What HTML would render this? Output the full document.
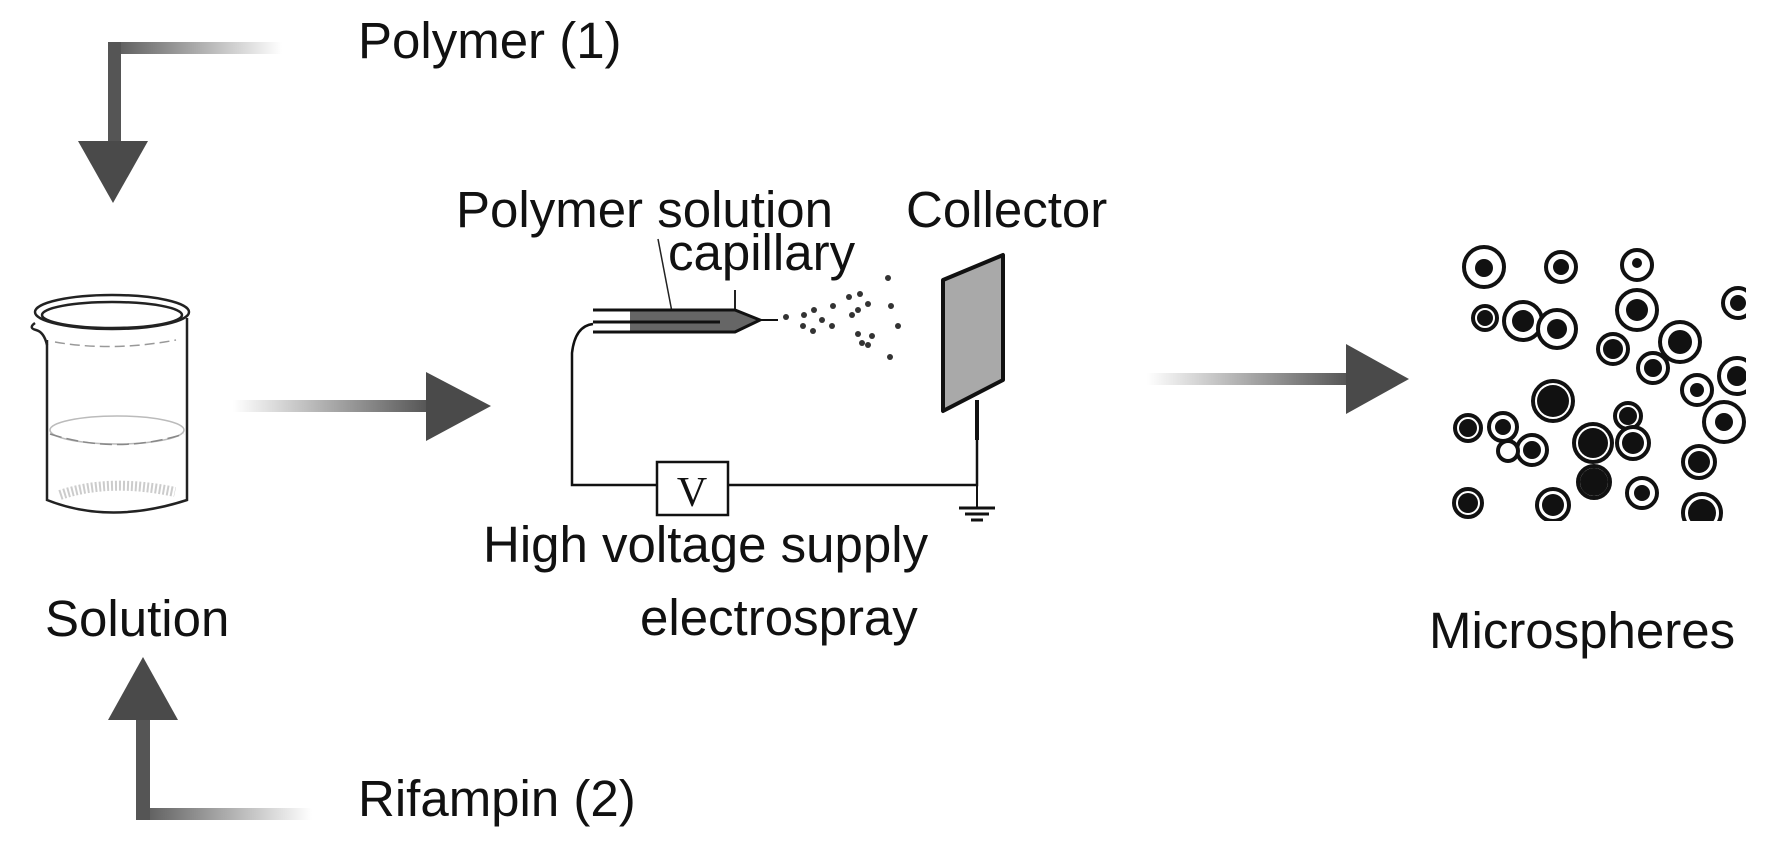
<!DOCTYPE html>
<html><head><meta charset="utf-8"><style>
html,body{margin:0;padding:0;background:#fff;}
svg{display:block;}
text{font-family:"Liberation Sans",sans-serif;fill:#111;}
</style></head><body>
<svg width="1772" height="844" viewBox="0 0 1772 844" xmlns="http://www.w3.org/2000/svg">
<defs>
<linearGradient id="gR" x1="0" x2="1" y1="0" y2="0"><stop offset="0" stop-color="#fff"/><stop offset="1" stop-color="#555"/></linearGradient>
<linearGradient id="gL" x1="0" x2="1" y1="0" y2="0"><stop offset="0" stop-color="#555"/><stop offset="1" stop-color="#fff"/></linearGradient>
<clipPath id="cp"><rect x="1440" y="240" width="306" height="281"/></clipPath>
</defs>

<!-- top arrow -->
<rect x="108" y="42" width="174" height="12" fill="url(#gL)"/>
<rect x="108" y="42" width="13" height="100" fill="#555"/>
<polygon points="78,141 148,141 113,203" fill="#4a4a4a"/>
<text x="358" y="58" font-size="51">Polymer (1)</text>

<!-- bottom arrow -->
<rect x="136" y="808" width="176" height="12" fill="url(#gL)"/>
<rect x="136" y="718" width="14" height="102" fill="#555"/>
<polygon points="108,720 178,720 143,657" fill="#4a4a4a"/>
<text x="358" y="816" font-size="51">Rifampin (2)</text>

<!-- beaker -->
<g fill="none" stroke="#222" stroke-width="2.5">
<ellipse cx="112" cy="312" rx="77" ry="17" fill="#fff"/>
<ellipse cx="112" cy="315" rx="70" ry="13"/>
<path d="M35,323 Q28,328 36,330 Q44,332 47,345"/>
<path d="M47,340 L47,500 Q110,525 187,500 L187,318"/>
</g>
<path d="M55,342 Q112,352 176,340" fill="none" stroke="#999" stroke-width="1.5" stroke-dasharray="10,5"/>
<ellipse cx="117" cy="430" rx="67" ry="14" fill="none" stroke="#bbb" stroke-width="1.5"/>
<path d="M50,434 Q117,455 184,434" fill="none" stroke="#888" stroke-width="1.5" stroke-dasharray="12,5"/>
<path d="M60,495 Q110,478 175,492" fill="none" stroke="#ccc" stroke-width="10" stroke-dasharray="2,2"/>
<text x="45" y="636" font-size="51">Solution</text>

<!-- middle arrow -->
<rect x="233" y="400" width="195" height="12" fill="url(#gR)"/>
<polygon points="426,372 491,406 426,441" fill="#4a4a4a"/>

<!-- electrospray -->
<text x="456" y="227" font-size="51">Polymer solution</text>
<text x="668" y="270" font-size="51">capillary</text>
<text x="906" y="227" font-size="51">Collector</text>
<line x1="658" y1="239" x2="672" y2="312" stroke="#222" stroke-width="1.5"/>
<line x1="735" y1="290" x2="735" y2="310" stroke="#222" stroke-width="2"/>
<polygon points="630,310 735,310 760,320 735,332 630,332" fill="#666"/>
<g stroke="#111" stroke-width="3" fill="none">
<path d="M593,310 L735,310 L760,320 L735,332 L593,332"/>
<line x1="593" y1="322" x2="720" y2="322"/>
<line x1="760" y1="320" x2="778" y2="320" stroke-width="2"/>
</g>
<path d="M593,324 Q575,326 572,353 L572,485 L657,485 M728,485 L977,485 L977,440" fill="none" stroke="#111" stroke-width="2.5"/>
<rect x="657" y="462" width="71" height="53" fill="#fff" stroke="#111" stroke-width="2.5"/>
<text x="692" y="506" font-size="42" text-anchor="middle" style="font-family:'Liberation Serif',serif">V</text>
<g stroke="#111" stroke-width="3"><line x1="959" y1="508" x2="995" y2="508"/><line x1="965" y1="514" x2="989" y2="514"/><line x1="971" y1="520" x2="983" y2="520"/></g>
<line x1="977" y1="485" x2="977" y2="508" stroke="#111" stroke-width="2"/>
<line x1="977" y1="400" x2="977" y2="440" stroke="#111" stroke-width="4"/>
<polygon points="943,280 1003,255 1003,380 943,411" fill="#a9a9a9" stroke="#111" stroke-width="4" stroke-linejoin="round"/>
<g fill="#333">
<circle cx="786" cy="317" r="3"/><circle cx="804" cy="315" r="3"/><circle cx="814" cy="310" r="3"/><circle cx="803" cy="326" r="3"/><circle cx="813" cy="331" r="3"/><circle cx="822" cy="320" r="3"/><circle cx="833" cy="306" r="3"/><circle cx="832" cy="326" r="3"/><circle cx="849" cy="297" r="3"/><circle cx="860" cy="294" r="3"/><circle cx="858" cy="310" r="3"/><circle cx="868" cy="304" r="3"/><circle cx="858" cy="334" r="3"/><circle cx="868" cy="345" r="3"/><circle cx="862" cy="343" r="3"/><circle cx="872" cy="336" r="3"/><circle cx="888" cy="278" r="3"/><circle cx="891" cy="306" r="3"/><circle cx="898" cy="326" r="3"/><circle cx="890" cy="357" r="3"/><circle cx="852" cy="315" r="3"/>
</g>
<text x="483" y="562" font-size="51">High voltage supply</text>
<text x="640" y="635" font-size="51">electrospray</text>

<!-- right arrow -->
<rect x="1147" y="373" width="201" height="12" fill="url(#gR)"/>
<polygon points="1346,344 1409,379 1346,414" fill="#4a4a4a"/>

<!-- microspheres -->
<g clip-path="url(#cp)" stroke="#111" stroke-width="4">
<g fill="#fff">
<circle cx="1484" cy="267" r="20"/><circle cx="1561" cy="267" r="15"/><circle cx="1637" cy="265" r="15"/><circle cx="1738" cy="303" r="15"/><circle cx="1485" cy="318" r="12"/><circle cx="1523" cy="321" r="19"/><circle cx="1557" cy="329" r="19"/><circle cx="1637" cy="310" r="20"/><circle cx="1613" cy="349" r="15"/><circle cx="1680" cy="342" r="20"/><circle cx="1653" cy="368" r="15"/><circle cx="1737" cy="376" r="18"/><circle cx="1697" cy="390" r="15"/><circle cx="1553" cy="401" r="20"/><circle cx="1724" cy="422" r="20"/><circle cx="1468" cy="428" r="13"/><circle cx="1503" cy="427" r="14"/><circle cx="1628" cy="416" r="13"/><circle cx="1593" cy="443" r="19"/><circle cx="1633" cy="443" r="16"/><circle cx="1532" cy="450" r="15"/><circle cx="1508" cy="451" r="10"/><circle cx="1594" cy="482" r="16"/><circle cx="1699" cy="462" r="16"/><circle cx="1642" cy="493" r="15"/><circle cx="1553" cy="505" r="16"/><circle cx="1468" cy="503" r="14"/><circle cx="1702" cy="513" r="19"/>
</g>
<g fill="#111" stroke="none">
<circle cx="1484" cy="268" r="9"/><circle cx="1561" cy="267" r="8"/><circle cx="1637" cy="263" r="5"/><circle cx="1738" cy="303" r="8"/><circle cx="1485" cy="318" r="8"/><circle cx="1523" cy="321" r="11"/><circle cx="1557" cy="329" r="10"/><circle cx="1637" cy="310" r="11"/><circle cx="1613" cy="349" r="10"/><circle cx="1680" cy="342" r="12"/><circle cx="1653" cy="368" r="9"/><circle cx="1737" cy="376" r="10"/><circle cx="1697" cy="390" r="7"/><circle cx="1553" cy="401" r="16"/><circle cx="1724" cy="422" r="9"/><circle cx="1468" cy="428" r="9"/><circle cx="1503" cy="427" r="8"/><circle cx="1628" cy="416" r="9"/><circle cx="1593" cy="443" r="15"/><circle cx="1633" cy="443" r="11"/><circle cx="1532" cy="450" r="9"/><circle cx="1594" cy="482" r="14"/><circle cx="1699" cy="462" r="11"/><circle cx="1642" cy="493" r="8"/><circle cx="1553" cy="505" r="11"/><circle cx="1468" cy="503" r="10"/><circle cx="1702" cy="513" r="14"/>
</g>
</g>
<text x="1429" y="648" font-size="51">Microspheres</text>
</svg>
</body></html>
